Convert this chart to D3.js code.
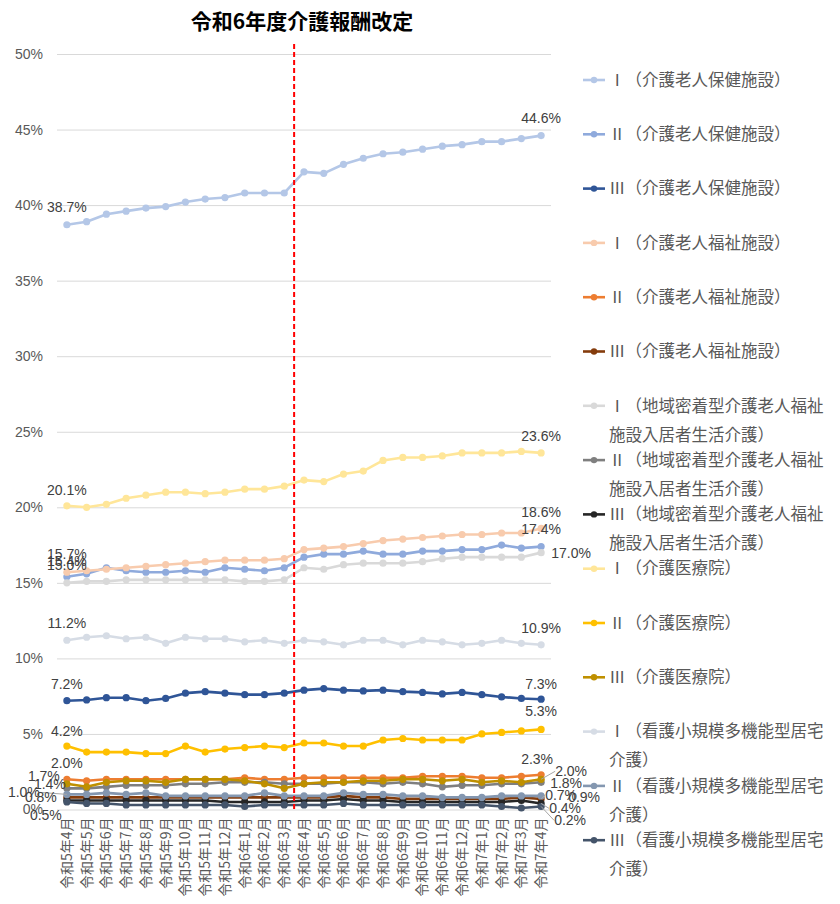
<!DOCTYPE html>
<html><head><meta charset="utf-8">
<script src="https://cdn.jsdelivr.net/npm/d3@7"></script>
<style>body{margin:0;background:#fff} svg{display:block}</style>
</head><body><svg id="c" width="840" height="904"></svg>
<script>
// ---------- DATA ----------
const categories = ["令和5年4月","令和5年5月","令和5年6月","令和5年7月","令和5年8月","令和5年9月","令和5年10月","令和5年11月","令和5年12月",
  "令和6年1月","令和6年2月","令和6年3月","令和6年4月","令和6年5月","令和6年6月","令和6年7月","令和6年8月","令和6年9月","令和6年10月","令和6年11月","令和6年12月",
  "令和7年1月","令和7年2月","令和7年3月","令和7年4月"];
const revisionMonth = "令和6年4月";
const yTicks = [0,5,10,15,20,25,30,35,40,45,50];
const titleText = "令和6年度介護報酬改定";

const seriesNames = [
  "Ⅰ（介護老人保健施設）","Ⅱ（介護老人保健施設）","Ⅲ（介護老人保健施設）",
  "Ⅰ（介護老人福祉施設）","Ⅱ（介護老人福祉施設）","Ⅲ（介護老人福祉施設）",
  "Ⅰ（地域密着型介護老人福祉施設入居者生活介護）","Ⅱ（地域密着型介護老人福祉施設入居者生活介護）","Ⅲ（地域密着型介護老人福祉施設入居者生活介護）",
  "Ⅰ（介護医療院）","Ⅱ（介護医療院）","Ⅲ（介護医療院）",
  "Ⅰ（看護小規模多機能型居宅介護）","Ⅱ（看護小規模多機能型居宅介護）","Ⅲ（看護小規模多機能型居宅介護）"
];

const roukenI   = [38.7,38.9,39.4,39.6,39.8,39.9,40.2,40.4,40.5,40.8,40.8,40.8,42.2,42.1,42.7,43.1,43.4,43.5,43.7,43.9,44.0,44.2,44.2,44.4,44.6];
const roukenII  = [15.4,15.6,16.0,15.8,15.7,15.7,15.8,15.7,16.0,15.9,15.8,16.0,16.7,16.9,16.9,17.1,16.9,16.9,17.1,17.1,17.2,17.2,17.5,17.3,17.4];
const roukenIII = [7.2,7.25,7.4,7.4,7.2,7.35,7.7,7.8,7.7,7.6,7.6,7.7,7.9,8.0,7.9,7.85,7.9,7.8,7.75,7.65,7.75,7.6,7.45,7.35,7.3];
const tokuyoI   = [15.7,15.8,15.9,16.0,16.1,16.2,16.3,16.4,16.5,16.5,16.5,16.6,17.2,17.3,17.4,17.6,17.8,17.9,18.0,18.1,18.2,18.2,18.3,18.3,18.6];
const tokuyoII  = [2.0,1.9,2.0,2.0,2.0,2.0,2.0,2.0,2.0,2.1,2.0,2.0,2.1,2.1,2.1,2.1,2.1,2.1,2.2,2.2,2.2,2.1,2.1,2.2,2.3];
const tokuyoIII = [0.8,0.8,0.8,0.8,0.8,0.8,0.8,0.8,0.8,0.8,0.8,0.8,0.8,0.8,0.9,0.8,0.8,0.7,0.7,0.7,0.7,0.7,0.7,0.8,0.7];
const chiikiI   = [15.0,15.1,15.1,15.2,15.2,15.2,15.2,15.2,15.2,15.1,15.1,15.2,16.0,15.9,16.2,16.3,16.3,16.3,16.4,16.6,16.7,16.7,16.7,16.7,17.0];
const chiikiII  = [1.4,1.4,1.5,1.6,1.6,1.6,1.7,1.7,1.8,1.8,1.8,1.7,1.7,1.7,1.8,1.8,1.7,1.8,1.7,1.5,1.6,1.6,1.7,1.7,1.8];
const chiikiIII = [0.6,0.6,0.6,0.6,0.6,0.6,0.6,0.6,0.5,0.5,0.5,0.5,0.6,0.6,0.7,0.6,0.6,0.5,0.5,0.5,0.5,0.5,0.5,0.6,0.4];
const iryouinI  = [20.1,20.0,20.2,20.6,20.8,21.0,21.0,20.9,21.0,21.2,21.2,21.4,21.8,21.7,22.2,22.4,23.1,23.3,23.3,23.4,23.6,23.6,23.6,23.7,23.6];
const iryouinII = [4.2,3.8,3.8,3.8,3.7,3.7,4.2,3.8,4.0,4.1,4.2,4.1,4.4,4.4,4.2,4.2,4.6,4.7,4.6,4.6,4.6,5.0,5.1,5.2,5.3];
const iryouinIII= [1.7,1.5,1.8,1.9,1.9,1.8,2.0,2.0,2.0,1.9,1.7,1.4,1.7,1.8,1.8,1.9,1.9,2.0,2.0,1.9,2.0,1.8,1.9,1.8,2.0];
const kantakiI  = [11.2,11.4,11.5,11.3,11.4,11.0,11.4,11.3,11.3,11.1,11.2,11.0,11.2,11.1,10.9,11.2,11.2,10.9,11.2,11.1,10.9,11.0,11.2,11.0,10.9];
const kantakiII = [1.0,1.0,1.1,1.0,1.1,0.9,0.9,0.9,0.9,0.9,1.1,0.9,0.9,0.9,1.1,1.0,1.0,0.9,0.9,0.8,0.8,0.8,0.9,0.9,0.9];
const kantakiIII= [0.5,0.4,0.4,0.3,0.3,0.3,0.3,0.3,0.3,0.2,0.3,0.3,0.3,0.3,0.4,0.3,0.3,0.3,0.3,0.3,0.3,0.3,0.2,0.1,0.2];

const seriesValues = [roukenI,roukenII,roukenIII,tokuyoI,tokuyoII,tokuyoIII,chiikiI,chiikiII,chiikiIII,iryouinI,iryouinII,iryouinIII,kantakiI,kantakiII,kantakiIII];

// ---------- STYLE ----------
const seriesColors = ["#b4c7e7","#8faadc","#2f5597","#f8cbad","#ed7d31","#843c0c","#d9d9d9","#7f7f7f","#262626","#ffe699","#ffc000","#bf9000","#d6dce5","#8497b0","#44546a"];
// label offsets [dx, dy, leader?] relative to first / last point; null = no label
const startLabelOffsets = [[0,-18],[0,-16],[0,-17],[0,-18],[0,-16],[-26,0],[0,-18],[-17,-4],null,[0,-16],[0,-15],[-23,-8],[0,-17],[-43,-2,true],[-21,13]];
const endLabelOffsets   = [[0,-17],[0,-17],[0,-15],[0,-16],[-4,-16],[20,-4,true],[30,0],[25,1],[24,5,true],[0,-17],[0,-18],[30,-8,true],[0,-17],[43,1],[29,14,true]];

const plotLeft = 57, plotRight = 551, plotTop = 54, plotBottom = 809.5;
const svg = d3.select("#c");
const numFont = "'Liberation Sans', Arial, sans-serif";
const cjkFont = "'Noto Sans CJK JP', 'Noto Sans', sans-serif";

const x = d3.scaleBand().domain(categories).range([plotLeft, plotRight]).padding(0);
const cx = c => x(c) + x.bandwidth() / 2;
const y = d3.scaleLinear().domain([0, 50]).range([plotBottom, plotTop]);

// Title
svg.append("text").attr("x", 302).attr("y", 29).attr("text-anchor", "middle")
  .style("font-family", cjkFont).style("font-size", "21px").style("font-weight", "bold").attr("fill", "#000")
  .text(titleText);

// Y axis with gridlines
const yAxis = svg.append("g").attr("transform", `translate(${plotLeft},0)`)
  .call(d3.axisLeft(y).tickValues(yTicks).tickFormat(d => d + "%").tickSizeInner(-(plotRight - plotLeft)).tickSizeOuter(0).tickPadding(14));
yAxis.select(".domain").remove();
yAxis.selectAll(".tick line").attr("stroke", "#d9d9d9").attr("stroke-width", 1);
yAxis.selectAll(".tick text").attr("fill", "#595959").style("font-family", numFont).style("font-size", "14px");

// X axis
const xAxis = svg.append("g").attr("transform", `translate(0,${plotBottom})`)
  .call(d3.axisBottom(x).tickSize(0));
xAxis.select(".domain").remove();
xAxis.selectAll(".tick text")
  .attr("x", -8).attr("y", 0).attr("dy", "0.35em")
  .attr("transform", "rotate(-90)")
  .style("text-anchor", "end")
  .attr("fill", "#595959").style("font-family", cjkFont).style("font-size", "14px");

// Series
const line = d3.line().x((d, i) => cx(categories[i])).y(d => y(d));
seriesValues.forEach((vals, si) => {
  const g = svg.append("g");
  g.append("path").datum(vals).attr("d", line).attr("fill", "none")
    .attr("stroke", seriesColors[si]).attr("stroke-width", 2.6).attr("stroke-linejoin", "round").attr("stroke-linecap", "round");
  g.selectAll("circle").data(vals).join("circle")
    .attr("cx", (d, i) => cx(categories[i])).attr("cy", d => y(d)).attr("r", 3.6)
    .attr("fill", seriesColors[si]);
});

// Revision line
const revX = x(revisionMonth);
svg.append("line").attr("x1", revX).attr("x2", revX).attr("y1", 44).attr("y2", plotBottom)
  .attr("stroke", "#ff0000").attr("stroke-width", 2).attr("stroke-dasharray", "5,3");

// Data labels
const labelG = svg.append("g");
function addLabel(si, idx, off) {
  if (!off) return;
  const v = seriesValues[si][idx];
  const px = cx(categories[idx]), py = y(v);
  const lx = px + off[0], ly = py + off[1];
  const t = labelG.append("text").attr("x", lx).attr("y", ly).attr("text-anchor", "middle").attr("dy", "0.35em")
    .attr("fill", "#404040").style("font-family", numFont).style("font-size", "14px")
    .text(v.toFixed(1) + "%");
  if (off[2]) {
    const w = t.node().getComputedTextLength();
    const ex = off[0] < 0 ? lx + w / 2 : lx - w / 2;
    labelG.insert("path", "text").attr("d", `M${px},${py}L${ex},${ly}`)
      .attr("fill", "none").attr("stroke", "#a6a6a6").attr("stroke-width", 1);
  }
}
seriesValues.forEach((vals, si) => {
  addLabel(si, 0, startLabelOffsets[si]);
  addLabel(si, vals.length - 1, endLabelOffsets[si]);
});

// Legend
const legendX = 583, legendTextX = 609, legendTop = 80, legendStep = 54.3, legendMaxW = 228;
seriesNames.forEach((name, si) => {
  const ly = legendTop + si * legendStep;
  const g = svg.append("g");
  g.append("line").attr("x1", legendX).attr("x2", legendX + 22).attr("y1", ly).attr("y2", ly)
    .attr("stroke", seriesColors[si]).attr("stroke-width", 2.6);
  g.append("circle").attr("cx", legendX + 11).attr("cy", ly).attr("r", 3.2).attr("fill", seriesColors[si]);
  const t = g.append("text").attr("x", legendTextX).attr("y", ly)
    .attr("fill", "#595959").style("font-family", cjkFont).style("font-size", "16.5px");
  const chars = Array.from(name);
  let lines = [], cur = "";
  const probe = t.append("tspan");
  chars.forEach(ch => {
    probe.text(cur + ch);
    if (probe.node().getComputedTextLength() > legendMaxW && cur) { lines.push(cur); cur = ch; }
    else cur += ch;
  });
  lines.push(cur);
  probe.remove();
  lines.forEach((ln, li) => {
    t.append("tspan").attr("x", legendTextX).attr("dy", li === 0 ? "0.35em" : "29px").text(ln);
  });
});
</script>
</body></html>
